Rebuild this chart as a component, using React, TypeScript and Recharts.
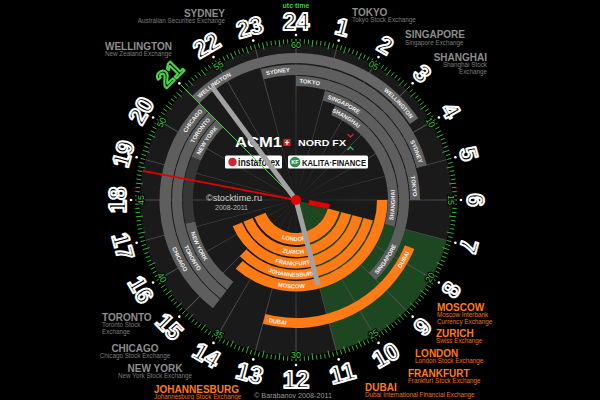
import React from 'react';
import { PieChart, Pie, Cell } from 'recharts';

// ---- values ----
const hourLabels = ['24', '1', '2', '3', '4', '5', '6', '7', '8', '9', '10', '11', '12', '13', '14', '15', '16', '17', '18', '19', '20', '21', '22', '23'];
const minuteLabels = ['60', '05', '10', '15', '20', '25', '30', '35', '40', '45', '50', '55'];

const exchanges = ['WELLINGTON', 'SYDNEY', 'TOKYO', 'SINGAPORE', 'SHANGHAI', 'CHICAGO', 'TORONTO', 'NEW YORK', 'LONDON', 'ZURICH', 'FRANKFURT', 'JOHANNESBURG', 'MOSCOW', 'DUBAI'];
const openUtc = [21, 23, 0, 1, 1.5, 14.5, 14.5, 14.5, 7, 7, 7, 7, 6, 7.5];
const closeUtc = [3.75, 5, 6, 9, 7, 21, 21, 21, 16.5, 16.5, 16.5, 15, 14.75, 13];
const exchangeFullNames = [
  ['New Zealand Exchange'],
  ['Australian Securities Exchange'],
  ['Tokyo Stock Exchange'],
  ['Singapore Exchange'],
  ['Shanghai Stock', 'Exchange'],
  ['Chicago Stock Exchange'],
  ['Toronto Stock', 'Exchange'],
  ['New York Stock Exchange'],
  ['London Stock Exchange'],
  ['Swiss Exchange'],
  ['Frankfurt Stock Exchange'],
  ['Johannesburg Stock Exchange'],
  ['Moscow Interbank', 'Currency Exchange'],
  ['Dubai International Financial Exchange'],
];

const highlightFrom = 7;
const highlightTo = 11;
const currentHour = 21;
const handMinute = 53.9;
const handHour = 11.03;
const handSecond = 46.8;

// ---- layout ----
const CX = 296;
const CY = 200;
const FONT = '"Liberation Sans", Arial, sans-serif';
const GREY = '#5e5e5e';
const ORANGE = '#ff7b16';
const GREEN = '#3fcf3f';

type Band = { r0: number; r1: number; fill: string; mode: 'ends' | 'middle'; dim?: [number, number]; at?: number[] };
const bandLayout: Record<string, Band> = {
  WELLINGTON: { r0: 137, r1: 147, fill: '#666', mode: 'ends' },
  SYDNEY: { r0: 125, r1: 135.5, fill: GREY, mode: 'ends' },
  TOKYO: { r0: 114, r1: 124, fill: GREY, mode: 'ends' },
  SINGAPORE: { r0: 103, r1: 113, fill: GREY, mode: 'ends' },
  SHANGHAI: { r0: 92, r1: 102, fill: GREY, mode: 'ends', at: [2.1, 6.2] },
  CHICAGO: { r0: 125, r1: 136.5, fill: GREY, mode: 'ends', at: [16.2, 20.5] },
  TORONTO: { r0: 114, r1: 124, fill: GREY, mode: 'ends', at: [16.05, 20.4] },
  'NEW YORK': { r0: 103, r1: 113, fill: GREY, mode: 'ends', dim: [17.2, 19.5], at: [16.3, 20.25] },
  LONDON: { r0: 33, r1: 45, fill: ORANGE, mode: 'middle' },
  ZURICH: { r0: 47, r1: 57, fill: ORANGE, mode: 'middle' },
  FRANKFURT: { r0: 58.5, r1: 68.5, fill: ORANGE, mode: 'middle' },
  JOHANNESBURG: { r0: 70, r1: 79.5, fill: ORANGE, mode: 'middle' },
  MOSCOW: { r0: 81, r1: 91.5, fill: ORANGE, mode: 'middle' },
  DUBAI: { r0: 118, r1: 128, fill: ORANGE, mode: 'ends' },
};

const legendLayout: Record<string, { x: number; y: number; anchor: 'start' | 'middle' | 'end'; orange?: boolean }> = {
  WELLINGTON: { x: 105, y: 50, anchor: 'start' },
  SYDNEY: { x: 225, y: 16.5, anchor: 'end' },
  TOKYO: { x: 352, y: 16, anchor: 'start' },
  SINGAPORE: { x: 405, y: 38.3, anchor: 'start' },
  SHANGHAI: { x: 487, y: 61, anchor: 'end' },
  TORONTO: { x: 102, y: 320.7, anchor: 'start' },
  CHICAGO: { x: 135, y: 351.7, anchor: 'middle' },
  'NEW YORK': { x: 155, y: 372, anchor: 'middle' },
  JOHANNESBURG: { x: 154, y: 393, anchor: 'start', orange: true },
  MOSCOW: { x: 437, y: 310.7, anchor: 'start', orange: true },
  ZURICH: { x: 436, y: 337, anchor: 'start', orange: true },
  LONDON: { x: 415, y: 356.7, anchor: 'start', orange: true },
  FRANKFURT: { x: 408, y: 376.7, anchor: 'start', orange: true },
  DUBAI: { x: 365, y: 390.7, anchor: 'start', orange: true },
};

const rad = (d: number) => (d * Math.PI) / 180;
const pt = (deg: number, r: number): [number, number] => [CX + r * Math.sin(rad(deg)), CY - r * Math.cos(rad(deg))];
const span = (a: number, b: number) => (((b - a) % 24) + 24) % 24;
const flipped = (deg: number) => deg > 112 && deg < 262;

const LABEL_FS = 5.8;

function bandData(i: number) {
  const name = exchanges[i];
  const lay = bandLayout[name];
  const len = span(openUtc[i], closeUtc[i]);
  const segs: { value: number; fill: string }[] = [];
  if (lay.dim) {
    const a = span(openUtc[i], lay.dim[0]);
    const b = span(lay.dim[0], lay.dim[1]);
    segs.push({ value: a, fill: lay.fill }, { value: b, fill: '#363636' }, { value: len - a - b, fill: lay.fill });
  } else {
    segs.push({ value: len, fill: lay.fill });
  }
  segs.push({ value: 24 - len, fill: 'none' });
  return segs;
}

const greenData = [
  { value: span(highlightFrom, highlightTo), fill: '#1d4720' },
  { value: 24 - span(highlightFrom, highlightTo), fill: 'none' },
];

const LINE_W = 0.025;
const hourLineData = hourLabels.flatMap(() => [
  { value: LINE_W, fill: '#525252' },
  { value: 1 - LINE_W, fill: 'none' },
]);

function bandLabels() {
  const defs: React.ReactNode[] = [];
  const texts: React.ReactNode[] = [];
  exchanges.forEach((name, i) => {
    const lay = bandLayout[name];
    const rm = (lay.r0 + lay.r1) / 2;
    const w = name.length * 0.68 * LABEL_FS;
    const lh = ((w / 2 + 4) / rm) * (180 / Math.PI) / 15;
    const centers = lay.at ?? (lay.mode === 'middle' ? [12.2] : [openUtc[i] + lh, closeUtc[i] - lh]);
    centers.forEach((h, k) => {
      const deg = (((h % 24) + 24) % 24) * 15;
      const bottom = deg > 90 && deg < 270;
      const rb = bottom ? rm + 0.36 * LABEL_FS : rm - 0.36 * LABEL_FS;
      const sw = 70;
      const a = bottom ? deg + sw : deg - sw;
      const b = bottom ? deg - sw : deg + sw;
      const [x1, y1] = pt(a, rb);
      const [x2, y2] = pt(b, rb);
      const id = `lbl-${i}-${k}`;
      defs.push(<path key={id} id={id} d={`M${x1} ${y1} A${rb} ${rb} 0 0 ${bottom ? 0 : 1} ${x2} ${y2}`} />);
      texts.push(
        <text key={id} fontSize={LABEL_FS} fontWeight="bold" fill="#f2f2f2" fontFamily={FONT}>
          <textPath href={`#${id}`} startOffset="50%" textAnchor="middle">{name}</textPath>
        </text>
      );
    });
  });
  return { defs, texts };
}

function Dial() {
  const ticks: React.ReactNode[] = [];
  for (let k = 0; k < 240; k++) {
    const d = k * 1.5;
    const len = k % 20 === 0 ? 10 : k % 4 === 0 ? 7 : 4.5;
    const [x1, y1] = pt(d, 161);
    const [x2, y2] = pt(d, 161 - len);
    ticks.push(<line key={k} x1={x1} y1={y1} x2={x2} y2={y2} stroke="#33b833" strokeWidth={1} />);
  }
  const { defs, texts } = bandLabels();
  const hand = (deg: number, r0: number, r1: number, color: string, w: number, key: string) => {
    const [x1, y1] = pt(deg, r0);
    const [x2, y2] = pt(deg, r1);
    return <line key={key} x1={x1} y1={y1} x2={x2} y2={y2} stroke={color} strokeWidth={w} />;
  };
  return (
    <svg width={600} height={400} style={{ position: 'absolute', left: 0, top: 0 }}>
      <defs>{defs}</defs>
      {ticks}
      {hourLabels.map((_, h) => {
        const [x, y] = pt(h * 15, 165);
        return <circle key={h} cx={x} cy={y} r={1.3} fill="#fff" />;
      })}
      {minuteLabels.map((lab, i) => {
        const d = i * 30;
        const [x, y] = pt(d, 155);
        const rot = flipped(d) ? d - 180 : d;
        return (
          <text key={lab} x={x} y={y} transform={`rotate(${rot} ${x} ${y})`} textAnchor="middle" dominantBaseline="central"
            fontSize={9} fill={GREEN} stroke="#000" strokeWidth={2.2} paintOrder="stroke" fontFamily={FONT}>{lab}</text>
        );
      })}
      {hourLabels.map((lab, h) => {
        const d = h * 15;
        const [x, y] = pt(d, 179);
        const rot = flipped(d) ? d - 180 : d;
        return (
          <text key={lab} x={x} y={y} transform={`rotate(${rot} ${x} ${y})`} textAnchor="middle" dominantBaseline="central"
            fontSize={24} fontWeight="bold" fill="#000" stroke={h === currentHour ? '#49d749' : '#fff'} strokeWidth={2}
            strokeLinejoin="round" fontFamily={FONT}>{lab}</text>
        );
      })}
      {texts}
      <text x={296} y={8} textAnchor="middle" fontSize={7} fontWeight="bold" fill={GREEN} fontFamily={FONT}>utc time</text>

      {exchanges.map((name, i) => {
        const l = legendLayout[name];
        return (
          <g key={name} fontFamily={FONT} textAnchor={l.anchor}>
            <text x={l.x} y={l.y} fontSize={10} fontWeight="bold" fill={l.orange ? ORANGE : '#8d8d8d'}>{name}</text>
            {exchangeFullNames[i].map((s, k) => (
              <text key={k} x={l.x} y={l.y + 6.3 + k * 7} fontSize={6.3} fill={l.orange ? '#ea7418' : '#7c7c7c'}>{s}</text>
            ))}
          </g>
        );
      })}
      <text x={293} y={398} textAnchor="middle" fontSize={7.2} fill="#9a9a9a" fontFamily={FONT}>© Barabanov 2008-2011</text>

      <g fontFamily={FONT}>
        <text x={235} y={146.5} fontSize={14} fontWeight="bold" fill="#fff" textLength={47} lengthAdjust="spacingAndGlyphs">ACM1</text>
        <rect x={283.5} y={139} width={7} height={7} fill="#e3202a" />
        <path d="M287 140.3v4.4M284.8 142.5h4.4" stroke="#fff" strokeWidth={1.2} />
        <text x={298} y={145.5} fontSize={8.5} fontWeight="bold" fill="#fff" textLength={48} lengthAdjust="spacingAndGlyphs">NORD FX</text>
        <path d="M347.5 134l3 3 3-3" stroke="#e3202a" fill="none" strokeWidth={1.3} />
        <path d="M347.5 150l3-3 3 3" stroke="#3cb44a" fill="none" strokeWidth={1.3} />
        <rect x={225} y={155.5} width={57} height={13} rx={1.5} fill="#fff" />
        <circle cx={232.5} cy={162} r={4.2} fill="#d4232b" />
        <text x={238} y={166.3} fontSize={10.5} fontWeight="bold" fill="#111" textLength={42} lengthAdjust="spacingAndGlyphs">instaforex</text>
        <rect x={288} y={155.5} width={80} height={13} rx={1.5} fill="#fff" />
        <circle cx={295} cy={162} r={5.3} fill="#2f8f4f" />
        <text x={295} y={164.1} fontSize={5.5} fontWeight="bold" fill="#fff" textAnchor="middle">KF</text>
        <text x={302} y={166} fontSize={9.5} fontWeight="bold" fill="#111" textLength={64} lengthAdjust="spacingAndGlyphs">KALITA·FINANCE</text>
        <text x={206} y={201} fontSize={9.5} fill="#d2d2d2" textLength={56} lengthAdjust="spacingAndGlyphs">©stocktime.ru</text>
        <text x={215} y={209.5} fontSize={7} fill="#bdbdbd">2008-2011</text>
      </g>

      {hand(currentHour * 15, 0, 163, '#3fd13f', 1, 'cur')}
      {hand(handMinute * 6, 0, 140, '#a2a2a2', 5, 'min')}
      {hand(handHour * 15, 0, 88, '#a2a2a2', 5, 'hr')}
      {hand(handSecond * 6, 0, 156, '#e40000', 1.8, 'sec')}
      {hand(handSecond * 6 + 180, 13, 34, '#e40000', 5, 'secb')}
      <circle cx={CX} cy={CY} r={5} fill="#e40000" />
    </svg>
  );
}

export default function App() {
  return (
    <div style={{ position: 'absolute', left: 0, top: 0, width: 600, height: 400, background: '#000', overflow: 'hidden' }}>
      <PieChart width={600} height={400} margin={{ top: 0, right: 0, bottom: 0, left: 0 }}>
        <Pie data={[{ value: 1 }]} dataKey="value" cx={CX} cy={CY} innerRadius={0} outerRadius={156} stroke="none" fill="#1a1a1a" isAnimationActive={false} />
        <Pie data={greenData} dataKey="value" cx={CX} cy={CY} innerRadius={0} outerRadius={156}
          startAngle={90 - highlightFrom * 15} endAngle={90 - highlightFrom * 15 - 360} stroke="none" isAnimationActive={false}>
          {greenData.map((d, k) => <Cell key={k} fill={d.fill} />)}
        </Pie>
        <Pie data={hourLineData} dataKey="value" cx={CX} cy={CY} innerRadius={0} outerRadius={156}
          startAngle={90 + (LINE_W / 2) * 15} endAngle={90 + (LINE_W / 2) * 15 - 360} stroke="none" isAnimationActive={false}>
          {hourLineData.map((d, k) => <Cell key={k} fill={d.fill} />)}
        </Pie>
        {exchanges.map((name, i) => {
          const lay = bandLayout[name];
          const data = bandData(i);
          const start = 90 - openUtc[i] * 15;
          return (
            <Pie key={name} data={data} dataKey="value" cx={CX} cy={CY} innerRadius={lay.r0} outerRadius={lay.r1}
              startAngle={start} endAngle={start - 360} stroke="none" isAnimationActive={false}>
              {data.map((d, k) => <Cell key={k} fill={d.fill} />)}
            </Pie>
          );
        })}
      </PieChart>
      <Dial />
    </div>
  );
}
